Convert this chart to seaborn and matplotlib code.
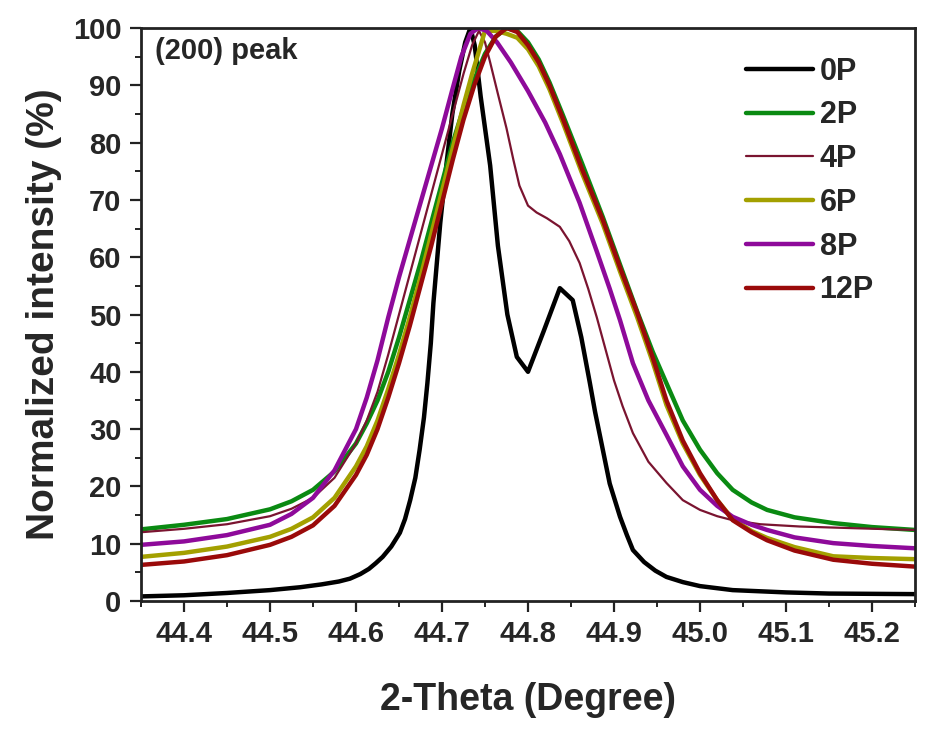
import pandas as pd
import numpy as np
import seaborn as sns
import matplotlib.pyplot as plt
from matplotlib.ticker import MultipleLocator

# 2-theta positions and normalized intensities read from the (200) peak figure
x_0p = [44.35, 44.40, 44.45, 44.50, 44.535, 44.56, 44.58, 44.593, 44.605, 44.615,
        44.623, 44.631, 44.641, 44.651, 44.657, 44.663, 44.669, 44.674, 44.679, 44.683,
        44.687, 44.69, 44.698, 44.705, 44.712, 44.72, 44.727, 44.733, 44.738, 44.745,
        44.756, 44.765, 44.776, 44.787, 44.80, 44.818, 44.837, 44.852, 44.862, 44.872,
        44.878, 44.884, 44.895, 44.907, 44.915, 44.922, 44.935, 44.948, 44.961, 44.98,
        45.0, 45.038, 45.1, 45.15, 45.25]
y_0p = [0.8, 1.0, 1.4, 1.9, 2.4, 2.9, 3.4, 3.9, 4.7, 5.6,
        6.6, 7.7, 9.5, 11.9, 14.3, 17.6, 21.5, 26.4, 32, 38,
        45, 52, 66, 76, 85, 92.5, 97.5, 100, 97, 88,
        76, 62, 50, 42.6, 40, 47, 54.6, 52.5, 46, 38,
        33, 28.6, 20.5, 14.7, 11.5, 8.9, 6.8, 5.3, 4.2, 3.3,
        2.6, 1.9, 1.5, 1.3, 1.2]

x_2p = [44.35, 44.40, 44.45, 44.50, 44.525, 44.55, 44.575, 44.60, 44.6125, 44.625,
        44.6375, 44.65, 44.6625, 44.675, 44.6875, 44.70, 44.7125, 44.725, 44.7375, 44.75,
        44.7625, 44.775, 44.7875, 44.80, 44.8125, 44.825, 44.84, 44.8625, 44.887, 44.9075,
        44.927, 44.945, 44.961, 44.98, 45.0, 45.02, 45.038, 45.06, 45.078, 45.11,
        45.155, 45.20, 45.25]
y_2p = [12.5, 13.3, 14.3, 16.0, 17.4, 19.4, 22.6, 27.5, 31, 35,
        40, 46, 52.5, 59, 66, 73, 80, 86, 91, 95.5,
        98.5, 100, 99.5, 97.5, 94.5, 90.5, 85, 76.5, 67, 58.5,
        50.5, 43.5, 38, 31.5, 26.4, 22.3, 19.4, 17.2, 15.9, 14.6,
        13.6, 12.9, 12.4]

x_4p = [44.35, 44.40, 44.45, 44.50, 44.525, 44.55, 44.575, 44.60, 44.6125, 44.625,
        44.6375, 44.65, 44.6625, 44.675, 44.6875, 44.70, 44.7125, 44.725, 44.735, 44.743,
        44.75, 44.756, 44.765, 44.775, 44.783, 44.79, 44.80, 44.81, 44.822, 44.837,
        44.848, 44.86, 44.87, 44.88, 44.89, 44.90, 44.91, 44.922, 44.94, 44.961,
        44.98, 45.0, 45.02, 45.038, 45.07, 45.116, 45.18, 45.25]
y_4p = [12.0, 12.6, 13.4, 14.8, 16.1, 18.0, 21.5, 27.5, 31.5, 36.5,
        43, 50, 57, 64, 71, 78, 85, 92, 97, 99.5,
        97.5, 94, 88.5, 82.5, 77, 72.5, 69, 67.8, 66.8, 65.3,
        62.8, 59, 54.5, 49.5, 44, 38.5, 34, 29.3, 24.3, 20.6,
        17.6, 15.9, 14.8, 14.1, 13.4, 13.0, 12.7, 12.4]

x_6p = [44.35, 44.40, 44.45, 44.50, 44.525, 44.55, 44.575, 44.60, 44.6125, 44.625,
        44.6375, 44.65, 44.6625, 44.675, 44.6875, 44.70, 44.7125, 44.725, 44.735, 44.743,
        44.75, 44.7625, 44.775, 44.7875, 44.80, 44.8125, 44.825, 44.841, 44.8625, 44.887,
        44.9075, 44.927, 44.945, 44.961, 44.98, 45.0, 45.02, 45.038, 45.06, 45.078,
        45.11, 45.155, 45.20, 45.25]
y_6p = [7.7, 8.4, 9.5, 11.2, 12.6, 14.6, 18.0, 23.5, 27, 31.5,
        37, 43, 49.5, 56.5, 64, 71.5, 79, 86.5, 92, 96,
        99.5, 99.5, 99, 98.3, 96.3, 93.3, 89.3, 83.3, 74.8, 65.8,
        57.3, 49.5, 41.7, 34.2, 27.5, 22, 17.6, 14.3, 12.2, 11.0,
        9.4, 7.8, 7.5, 7.3]

x_8p = [44.35, 44.40, 44.45, 44.50, 44.525, 44.55, 44.575, 44.60, 44.6125, 44.625,
        44.6375, 44.65, 44.6625, 44.675, 44.6875, 44.70, 44.7125, 44.7225, 44.733, 44.742,
        44.752, 44.764, 44.78, 44.80, 44.82, 44.837, 44.86, 44.88, 44.895, 44.907,
        44.922, 44.94, 44.961, 44.98, 45.0, 45.02, 45.038, 45.06, 45.078, 45.11,
        45.155, 45.20, 45.25]
y_8p = [9.8, 10.4, 11.5, 13.3, 15.2, 18.0, 22.8, 30, 35.5, 42,
        49.5, 56.5, 63, 69.5, 76, 82.5, 89.5, 95, 99, 100,
        99.5, 97.5, 94, 89, 83.5, 78, 69.5, 61, 54.5, 49,
        41.5, 35, 29, 23.5, 19.4, 16.6, 14.7, 13.3, 12.4, 11.1,
        10.1, 9.6, 9.2]

x_12p = [44.35, 44.40, 44.45, 44.50, 44.525, 44.55, 44.575, 44.60, 44.6125, 44.625,
         44.6375, 44.65, 44.6625, 44.675, 44.6875, 44.70, 44.7125, 44.725, 44.7375, 44.75,
         44.7625, 44.775, 44.7875, 44.80, 44.8125, 44.825, 44.841, 44.8625, 44.887, 44.9075,
         44.927, 44.945, 44.961, 44.98, 45.0, 45.02, 45.038, 45.06, 45.078, 45.11,
         45.155, 45.20, 45.25]
y_12p = [6.3, 6.9, 8.0, 9.8, 11.2, 13.2, 16.6, 22, 25.5, 30,
         35.5, 41.5, 48, 55, 62, 69.5, 77, 84, 90, 95,
         98.5, 100, 99.3, 97, 94, 90, 84, 75.5, 66.5, 58,
         50.3, 42.5, 35, 28, 22.3, 17.6, 14.1, 12, 10.6, 8.8,
         7.2, 6.5, 6.0]

labels = ["0P", "2P", "4P", "6P", "8P", "12P"]
colors = ["#000000", "#0a8a12", "#7a1430", "#a3a000", "#8e0a9a", "#9a0a0a"]
widths = [3.2, 3.2, 1.6, 3.2, 3.2, 3.2]

series = [(x_0p, y_0p), (x_2p, y_2p), (x_4p, y_4p),
          (x_6p, y_6p), (x_8p, y_8p), (x_12p, y_12p)]

sns.set_theme(style="ticks")
plt.rcParams['font.family'] = ['Liberation Sans', 'DejaVu Sans']
plt.rcParams['font.weight'] = 'bold'

fig = plt.figure(figsize=(9.3, 7.3), dpi=100)
ax = fig.add_axes([141 / 930, 1 - 601 / 730, 774 / 930, 573 / 730])

for (xs, ys), lab, c, lw in zip(series, labels, colors, widths):
    df = pd.DataFrame({"theta": xs, "intensity": ys})
    sns.lineplot(data=df, x="theta", y="intensity", color=c, lw=lw,
                 label=lab, ax=ax)

ax.set_xlim(44.35, 45.25)
ax.set_ylim(0, 100)
ax.xaxis.set_minor_locator(MultipleLocator(0.05))
ax.yaxis.set_major_locator(MultipleLocator(10))
ax.yaxis.set_minor_locator(MultipleLocator(5))
xt = np.arange(44.4, 45.21, 0.1)
ax.set_xticks(xt)
ax.set_xticklabels([f"{v:.1f}" for v in xt])

ax.tick_params(which="major", direction="out", length=8, width=1.6,
               labelsize=21, color="#222222", pad=6)
ax.tick_params(which="minor", direction="out", length=4.5, width=1.4,
               color="#222222")
ax.tick_params(top=False, right=False, which="both")
for lbl in ax.get_xticklabels() + ax.get_yticklabels():
    lbl.set_fontweight("bold")

for sp in ax.spines.values():
    sp.set_visible(True)
    sp.set_linewidth(2.0)
    sp.set_color("#222222")

ax.set_xlabel("2-Theta (Degree)", fontsize=27, fontweight="bold", labelpad=24)
ax.set_ylabel("Normalized intensity (%)", fontsize=28, fontweight="bold", labelpad=8)

ax.text(0.018, 0.985, "(200) peak", transform=ax.transAxes, fontsize=21,
        fontweight="bold", va="top", ha="left")

ax.legend(loc="upper left", bbox_to_anchor=(0.782, 0.95), frameon=False,
          handlelength=2.2, handletextpad=0.2, labelspacing=0.45,
          borderpad=0, borderaxespad=0, prop={"weight": "bold", "size": 22})

fig.savefig("out.png", dpi=100)
